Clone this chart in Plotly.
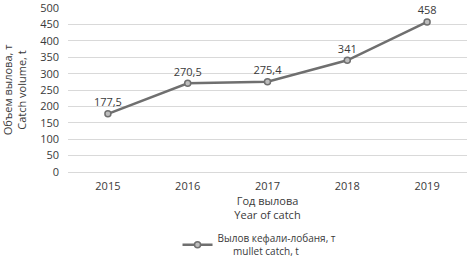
import plotly.graph_objects as go

years = ["2015", "2016", "2017", "2018", "2019"]
catch = [177.5, 270.5, 275.4, 341, 458]
labels = ["177,5", "270,5", "275,4", "341", "458"]
y_ticks = [0, 50, 100, 150, 200, 250, 300, 350, 400, 450, 500]

font = "Open Sans, Liberation Sans, sans-serif"
txt = "#3a3a3a"
fig = go.Figure()
fig.add_trace(go.Scatter(
    x=years, y=catch, mode="lines+markers+text",
    text=labels, textposition="top center",
    textfont=dict(size=11, color=txt, family=font),
    line=dict(color="#6f6f6f", width=2.5),
    marker=dict(symbol="circle", size=6, color="#bdbdbd", line=dict(color="#6f6f6f", width=1.5)),
    name="Вылов кефали-лобаня, т<br>      mullet catch, t",
    cliponaxis=False,
))
fig.update_layout(
    width=469, height=265,
    margin=dict(l=68, r=2, t=8, b=93, autoexpand=False),
    paper_bgcolor="white", plot_bgcolor="white",
    font=dict(family=font, size=11, color=txt),
    showlegend=True,
    legend=dict(orientation="h", x=0.48, xanchor="center", yref="container", y=0.15, yanchor="top",
                font=dict(size=10, color=txt), itemwidth=30, tracegroupgap=0),
    xaxis=dict(type="category", range=[-0.5, 4.5], showgrid=False, showline=True, linecolor="#d9d9d9", linewidth=1,
               ticks="", tickfont=dict(size=11, color=txt), automargin=False, ticklabelstandoff=4,
               title=dict(text="Год вылова<br>Year of catch", font=dict(size=11, color=txt), standoff=4)),
    yaxis=dict(range=[0, 500.5], tickvals=y_ticks, showgrid=True, gridcolor="#d9d9d9", gridwidth=1,
               zeroline=False, ticks="", tickfont=dict(size=11, color=txt), automargin=False,
               ticklabeloverflow="allow", ticklabelstandoff=8,
               title=dict(text="Объем вылова, т<br>Catch volume, t", font=dict(size=11, color=txt), standoff=12)),
)
fig.write_html("out.html", config={"displayModeBar": False},
               post_script="document.body.style.margin='0px';document.body.style.overflow='hidden';")
